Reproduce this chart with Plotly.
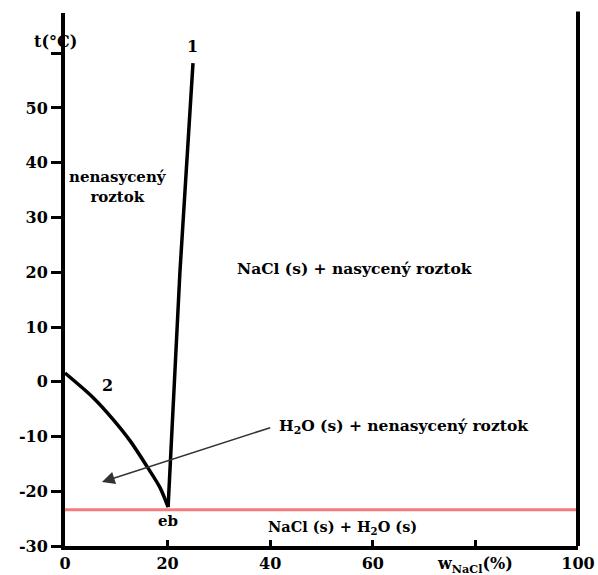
import plotly.graph_objects as go

# Liquidus curve 1 (NaCl solubility) - w NaCl (%) vs t (°C)
curve1_w = [20.1, 22.4, 24.95]
curve1_t = [-22.9, 20.0, 58.2]

# Curve 2 (freezing point of solution)
curve2_w = [0.0, 5.5, 9.4, 12.7, 16.0, 18.5, 20.1]
curve2_t = [1.6, -2.9, -6.9, -10.8, -15.5, -19.3, -22.9]

# Eutectic line
eut_w = [0, 100]
eut_t = [-23.4, -23.4]

y_ticks = [-30, -20, -10, 0, 10, 20, 30, 40, 50, 60]
y_ticktext = ["-30", "-20", "-10", "0", "10", "20", "30", "40", "50", ""]
x_ticks = [0, 20, 40, 60, 80, 100]
x_ticktext = ["0", "20", "40", "60", "w<sub>NaCl</sub>(%)", "100"]

FONT = "DejaVu Serif"

fig = go.Figure()
fig.add_trace(go.Scatter(x=eut_w, y=eut_t, mode="lines",
                         line=dict(color="#f47c7c", width=3), hoverinfo="skip"))
fig.add_trace(go.Scatter(x=curve1_w, y=curve1_t, mode="lines",
                         line=dict(color="black", width=3.5), hoverinfo="skip"))
fig.add_trace(go.Scatter(x=curve2_w, y=curve2_t, mode="lines", line_shape="spline",
                         line=dict(color="black", width=3.5, smoothing=0.8),
                         hoverinfo="skip"))

ann_font = dict(family=FONT, size=15.5, color="black")
annotations = [
    dict(x=-0.064, y=0.968, xref="paper", yref="paper", text="<b>t(°C)</b>",
         showarrow=False, font=dict(family=FONT, size=16, color="black")),
    dict(x=24.95, y=61.3, text="<b>1</b>", showarrow=False,
         font=dict(family=FONT, size=16, color="black")),
    dict(x=10.3, y=35.6, text="<b>nenasycený<br>roztok</b>", showarrow=False,
         font=dict(family=FONT, size=15, color="black")),
    dict(x=56.5, y=20.6, text="<b>NaCl (s) + nasycený roztok</b>", showarrow=False,
         font=ann_font),
    dict(x=8.2, y=-0.6, text="<b>2</b>", showarrow=False,
         font=dict(family=FONT, size=16, color="black")),
    dict(x=41.3, y=-8.1, text="<b>H<sub>2</sub>O (s) + nenasycený roztok</b>",
         showarrow=False, xanchor="left", font=ann_font),
    dict(x=20.1, y=-25.5, text="<b>eb</b>", showarrow=False,
         font=dict(family=FONT, size=15, color="black")),
    dict(x=39.2, y=-26.7, text="<b>NaCl (s) + H<sub>2</sub>O (s)</b>",
         showarrow=False, xanchor="left", font=dict(family=FONT, size=14.5, color="black")),
    dict(x=7.2, y=-18.3, ax=40.3, ay=-8.3, axref="x", ayref="y", text="",
         showarrow=True, arrowhead=2, arrowsize=1.6, arrowwidth=1.6,
         arrowcolor="#333333"),
]

fig.update_layout(
    width=598, height=575,
    margin=dict(l=65, r=20, t=13, b=29, autoexpand=False),
    paper_bgcolor="white", plot_bgcolor="white",
    showlegend=False,
    annotations=annotations,
    shapes=[dict(type="line", xref="paper", yref="paper", x0=1, x1=1, y0=0, y1=1.003,
                 line=dict(color="black", width=4))],
)
tickfont = dict(family=FONT, size=16, color="black", weight="bold")
fig.update_xaxes(range=[0, 100], showgrid=False, zeroline=False, automargin=False,
                 showline=True, linecolor="black", linewidth=4,
                 tickmode="array", tickvals=x_ticks, ticktext=x_ticktext,
                 ticks="inside", ticklen=6, tickwidth=3, tickcolor="black",
                 tickfont=tickfont)
fig.update_yaxes(range=[-30, 67.35], showgrid=False, zeroline=False, automargin=False,
                 showline=True, linecolor="black", linewidth=4,
                 tickmode="array", tickvals=y_ticks, ticktext=y_ticktext,
                 ticks="outside", ticklen=10, tickwidth=3, tickcolor="black",
                 tickfont=tickfont)

fig.write_html("out.html", config={"displayModeBar": False},
               post_script="document.body.style.margin='0';document.body.style.overflow='hidden';")
